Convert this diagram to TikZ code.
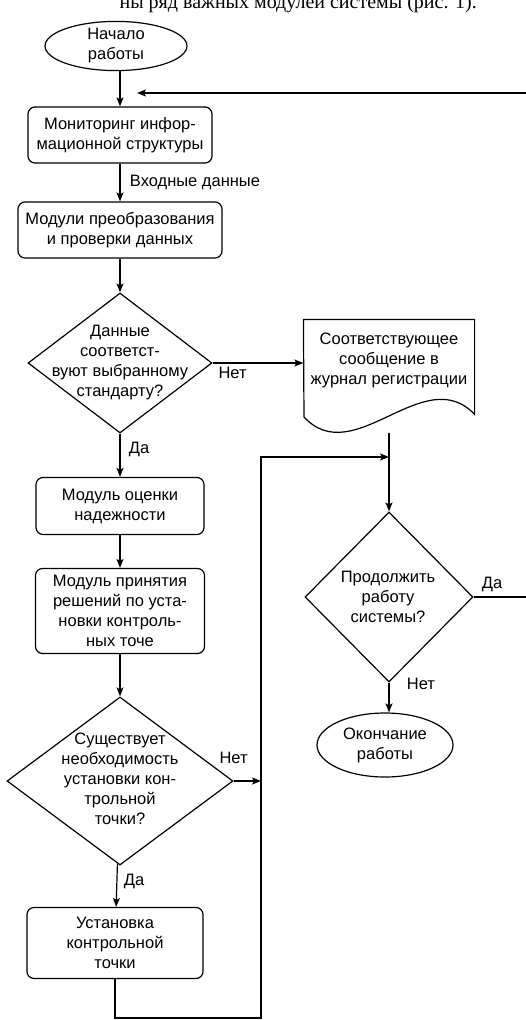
\documentclass[tikz,border=0pt]{standalone}
\usepackage{fontspec}
\setmainfont{Liberation Sans}
\newfontfamily\pageserif{Liberation Serif}
\usepackage{tikz}
\usetikzlibrary{shapes.geometric, arrows.meta, positioning}

\begin{document}
\begin{tikzpicture}[x=1pt, y=-1pt, ->, >={Stealth[length=9pt, width=7pt, inset=2pt]}, line width=1.2pt,
		every node/.style={font=\fontsize{16.5}{20}\selectfont},
		block/.style={draw, rounded corners=7pt, align=center, inner sep=0pt},
		decision/.style={draw, diamond, inner sep=0pt},
		term/.style={draw, ellipse, align=center, inner sep=0pt},
		txt/.style={align=center, inner sep=0pt}]
	\useasboundingbox (0,0) rectangle (526,1020);
	% piece of the page text above the figure
	\node[font=\pageserif\fontsize{20}{24}\selectfont, anchor=base west, inner sep=0pt] (pagetext) at (119,8) {ны ряд важных модулей системы (рис. 1).};

	\node[term, minimum width=142pt, minimum height=48pt] (start) at (116,46) {Начало\\работы};
	\node[block, minimum width=184pt, minimum height=56pt] (mon) at (120,135) {Мониторинг инфор-\\мационной структуры};
	\node[block, minimum width=204pt, minimum height=56pt] (conv) at (120,230) {Модули преобразования\\и проверки данных};
	\node[decision, minimum width=184pt, minimum height=140pt] (check) at (120,363) {};
	\node[txt] (checkt) at (120,363) {Данные\\соответст-\\вуют выбранному\\стандарту?};
	\node[minimum width=170pt, minimum height=112pt, inner sep=0pt] (log) at (389,376) {};
	\node[txt] (logt) at (389,360) {Соответствующее\\сообщение в\\журнал регистрации};
	\node[block, minimum width=168pt, minimum height=57pt] (rel) at (120,506) {Модуль оценки\\надежности};
	\node[block, minimum width=169pt, minimum height=85pt] (dec) at (120,611) {Модуль принятия\\решений по уста-\\новки контроль-\\ных точе};
	\node[decision, minimum width=226pt, minimum height=168pt] (need) at (120,781) {};
	\node[txt] (needt) at (120,779) {Существует\\необходимость\\установки кон-\\трольной\\точки?};
	\node[block, minimum width=176pt, minimum height=71pt] (set) at (115,943) {Установка\\контрольной\\точки};
	\node[decision, minimum width=168pt, minimum height=170pt] (cont) at (389,597) {};
	\node[txt] (contt) at (388,597) {Продолжить\\работу\\системы?};
	\node[term, minimum width=136pt, minimum height=64pt] (stop) at (385,745) {Окончание\\работы};

	\coordinate (loopin) at (137,93);
	\coordinate (back) at (545,93);
	\coordinate (bus) at (261,457);
	\coordinate (low) at (261,1018);

	% journal sheet
	\draw[-] (log.north west) -- (log.north east) -- ++(0,95) .. controls (424,361) and (354,471) .. (304,417) -- cycle;

	\path 	(start.south -| mon.north) edge (mon.north)
			(mon) edge [right] node[xshift=6pt]{Входные данные} (conv)
			(conv) edge (check)
			(check.east) edge [below] node[pos=0.22]{Нет} (check.east -| log.west)
			(check) edge [right] node[pos=0.36, xshift=5pt]{Да} (rel)
			(rel) edge (dec)
			(dec) edge (need)
			(need.east) edge [above] node[pos=0, yshift=13pt]{Нет} (need.east -| bus)
			(need) edge [right] node[pos=0.4, xshift=3pt]{Да} (set)
			(log.south) edge (cont.north)
			(cont.south) edge [right] node[pos=0.05, xshift=14pt]{Нет} (cont.south |- stop.north)
	;
	\draw (cont.east) -- node[above, pos=0.26, yshift=1pt]{Да} (cont.east -| back) -- (back) -- (loopin);
	\draw (set.south) |- (low) -- (bus) -- (bus -| log.south);
\end{tikzpicture}
\end{document}
